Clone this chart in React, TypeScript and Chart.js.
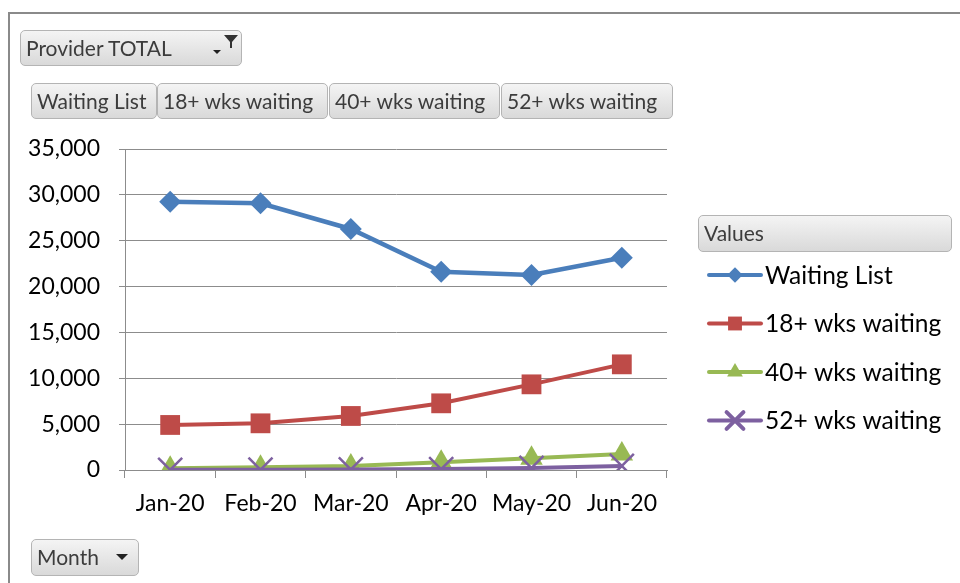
import React, { useEffect, useRef } from "react";
import { Chart, registerables } from "chart.js";
import { drawPoint } from "chart.js/helpers";

Chart.register(...registerables);

const months = ["Jan-20", "Feb-20", "Mar-20", "Apr-20", "May-20", "Jun-20"];
const waitingList = [29250, 29080, 26280, 21620, 21260, 23150];
const wks18 = [4910, 5090, 5890, 7270, 9340, 11520];
const wks40 = [190, 290, 440, 840, 1280, 1750];
const wks52 = [20, 30, 60, 100, 220, 440];
const yTicks = [0, 5000, 10000, 15000, 20000, 25000, 30000, 35000];

const FONT = "Lato, 'Liberation Sans', sans-serif";
const GRID = "#8c8c8c";

const btnStyle: React.CSSProperties = {
  position: "absolute",
  boxSizing: "border-box",
  border: "1px solid #b4b4b4",
  borderRadius: 5,
  background: "linear-gradient(#f4f4f4, #d9d9d9)",
  color: "#3c3c3c",
  fontFamily: FONT,
  fontSize: 21,
  lineHeight: "34px",
  paddingLeft: 5,
  whiteSpace: "nowrap",
  overflow: "hidden",
};

function Btn(props: { x: number; y: number; w: number; h: number; text: string; children?: React.ReactNode }) {
  return (
    <div style={{ ...btnStyle, left: props.x, top: props.y, width: props.w, height: props.h }}>
      {props.text}
      {props.children}
    </div>
  );
}

function DownArrow(props: { x: number; y: number; w: number }) {
  const w = props.w;
  return (
    <svg style={{ position: "absolute", left: props.x, top: props.y }} width={w} height={w / 2 + 1}>
      <path d={`M0 0 L${w} 0 L${w / 2} ${w / 2} Z`} fill="#222" />
    </svg>
  );
}

const legendPlugin = {
  id: "excelLegend",
  afterDraw(chart: any) {
    const ctx = chart.ctx;
    ctx.save();
    chart.data.datasets.forEach((ds: any, i: number) => {
      const y = 275 + i * 48.5;
      ctx.strokeStyle = ds.borderColor;
      ctx.lineWidth = 4;
      ctx.lineCap = "round";
      ctx.beginPath();
      ctx.moveTo(709, y);
      ctx.lineTo(761, y);
      ctx.stroke();
      ctx.fillStyle = ds.pointBackgroundColor;
      ctx.strokeStyle = ds.pointBorderColor;
      drawPoint(
        ctx,
        {
          pointStyle: ds.pointStyle,
          radius: ds.pointRadius * 0.7,
          rotation: 0,
          borderWidth: ds.pointStyle === "crossRot" ? 1.5 : 0,
        },
        735,
        y
      );
      ctx.fillStyle = "#000";
      ctx.font = `24.5px ${FONT}`;
      ctx.textBaseline = "middle";
      ctx.textAlign = "left";
      ctx.fillText(ds.label, 765, y + 1);
    });
    ctx.restore();
  },
};

export default function App() {
  const ref = useRef<HTMLCanvasElement>(null);
  useEffect(() => {
    if (!ref.current) return;
    const mk = (label: string, data: number[], color: string, style: string, r: number, bw: number, order: number) => ({
      label,
      data,
      order,
      borderColor: color,
      backgroundColor: color,
      pointBackgroundColor: color,
      pointBorderColor: color,
      borderWidth: bw,
      pointStyle: style,
      pointRadius: r,
      pointHoverRadius: r,
      pointBorderWidth: style === "crossRot" ? 2.5 : 0,
      tension: 0,
    });
    const chart = new Chart(ref.current, {
      type: "line",
      data: {
        labels: months,
        datasets: [
          mk("Waiting List", waitingList, "#4a7ebb", "rectRot", 11, 4.5, 3),
          mk("18+ wks waiting", wks18, "#be4b48", "rect", 14, 4, 2),
          mk("40+ wks waiting", wks40, "#98b954", "triangle", 13, 4, 1),
          mk("52+ wks waiting", wks52, "#7d60a0", "crossRot", 17, 4, 0),
        ] as any,
      },
      options: {
        animation: false,
        responsive: false,
        maintainAspectRatio: false,
        layout: { padding: { top: 149, right: 293, left: 0, bottom: 0 } },
        plugins: { legend: { display: false }, tooltip: { enabled: false } },
        scales: {
          x: {
            offset: true,
            afterFit: (s: any) => {
              s.height = 113;
            },
            grid: { drawOnChartArea: false, drawTicks: true, tickLength: 8, color: GRID, offset: true },
            border: { display: true, color: GRID, width: 1 },
            ticks: { color: "#000", font: { family: FONT, size: 23 }, padding: 12, maxRotation: 0 },
          },
          y: {
            min: 0,
            max: 35000,
            afterFit: (s: any) => {
              s.width = 125;
            },
            afterBuildTicks: (s: any) => {
              s.ticks = yTicks.map((v) => ({ value: v }));
            },
            grid: { color: GRID, drawTicks: true, tickLength: 6, lineWidth: 1 },
            border: { display: true, color: GRID, width: 1 },
            ticks: {
              color: "#000",
              font: { family: FONT, size: 23 },
              padding: 19,
              callback: (v: any) => Number(v).toLocaleString("en-US"),
            },
          },
        },
      },
      plugins: [legendPlugin],
    });
    return () => chart.destroy();
  }, []);

  return (
    <div style={{ position: "fixed", left: 0, top: 0, width: 960, height: 583, background: "#fff", overflow: "hidden" }}>
      <div
        style={{
          position: "absolute",
          left: 8,
          top: 12,
          width: 1000,
          height: 700,
          border: "2px solid #8a8a8a",
          boxSizing: "border-box",
        }}
      />
      <canvas ref={ref} width={960} height={583} style={{ position: "absolute", left: 0, top: 0 }} />
      <Btn x={20} y={30} w={222} h={36} text="Provider TOTAL">
        <DownArrow x={192} y={19} w={8} />
        <svg style={{ position: "absolute", left: 202, top: 3 }} width="16" height="16" viewBox="0 0 16 16">
          <path d="M1 1 L15 1 L9 8 L9 14 L7 14 L7 8 Z" fill="#333" />
        </svg>
      </Btn>
      <Btn x={31} y={83} w={126} h={36} text="Waiting List" />
      <Btn x={157} y={83} w={171} h={36} text="18+ wks waiting" />
      <Btn x={329} y={83} w={171} h={36} text="40+ wks waiting" />
      <Btn x={501} y={83} w={172} h={36} text="52+ wks waiting" />
      <Btn x={698} y={215} w={254} h={37} text="Values" />
      <Btn x={31} y={539} w={108} h={37} text="Month">
        <DownArrow x={84} y={14} w={12} />
      </Btn>
    </div>
  );
}
